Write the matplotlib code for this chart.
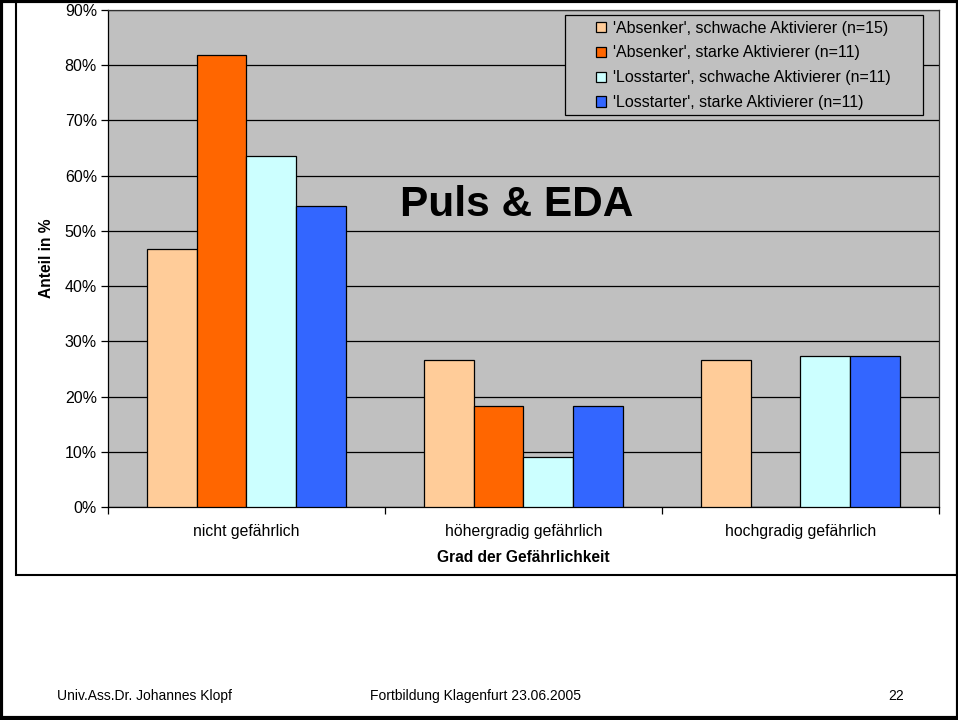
import numpy as np
import matplotlib.pyplot as plt
from matplotlib.patches import Rectangle

# --- data ---
categories = ["nicht gefährlich", "höhergradig gefährlich", "hochgradig gefährlich"]
series_labels = [
    "'Absenker', schwache Aktivierer (n=15)",
    "'Absenker', starke Aktivierer (n=11)",
    "'Losstarter', schwache Aktivierer (n=11)",
    "'Losstarter', starke Aktivierer (n=11)",
]
absenker_schwach = [46.7, 26.7, 26.7]
absenker_stark = [81.8, 18.2, 0.0]
losstarter_schwach = [63.6, 9.1, 27.3]
losstarter_stark = [54.5, 18.2, 27.3]
series_values = [absenker_schwach, absenker_stark, losstarter_schwach, losstarter_stark]
colors = ["#FFCC99", "#FF6600", "#CCFFFF", "#3366FF"]
yticks = [0, 10, 20, 30, 40, 50, 60, 70, 80, 90]

plt.rcParams['font.family'] = ['Liberation Sans', 'DejaVu Sans']

W, H = 958, 720
fig = plt.figure(figsize=(W / 100, H / 100), dpi=100)

# plot area in pixel coordinates
left, right, top, bottom = 108, 939, 10, 507
ax = fig.add_axes([left / W, 1 - bottom / H, (right - left) / W, (bottom - top) / H])
ax.set_facecolor("#C0C0C0")

x = np.arange(len(categories))
bar_w = 0.18
for i, (vals, col, lab) in enumerate(zip(series_values, colors, series_labels)):
    offs = (i - 1.5) * bar_w
    ax.bar(x + offs, vals, width=bar_w, color=col, edgecolor="black",
           linewidth=0.9, label=lab, zorder=3)

ax.set_xlim(-0.5, len(categories) - 0.5)
ax.set_ylim(0, 90)
ax.set_yticks(yticks)
ax.set_yticklabels([f"{v}%" for v in yticks], fontsize=11.5)
ax.yaxis.grid(True, color="black", linewidth=0.9, zorder=0)
ax.set_axisbelow(True)

ax.set_xticks(x)
ax.set_xticklabels(categories, fontsize=11.3)
ax.set_xticks(np.arange(len(categories) + 1) - 0.5, minor=True)
ax.tick_params(axis="x", which="major", length=0, pad=12)
ax.tick_params(axis="x", which="minor", length=5, width=0.9, direction="out")
ax.tick_params(axis="y", length=5, width=0.9, direction="out", pad=3)

for side in ["left", "bottom", "top", "right"]:
    ax.spines[side].set_linewidth(0.9)
ax.spines["top"].set_color("#303030")
ax.spines["right"].set_color("#303030")

ax.set_xlabel("Grad der Gefährlichkeit", fontsize=11.2, fontweight="bold", labelpad=8)
ax.set_ylabel("Anteil in %", fontsize=11.2, fontweight="bold")
ax.yaxis.set_label_coords((54 - left) / (right - left), 0.5)

ax.text(0.4916, 0.608, "Puls & EDA", transform=ax.transAxes, fontsize=30.5,
        fontweight="bold", ha="center", va="center", zorder=5)

# legend box drawn separately (wide side padding like the original)
ax.add_patch(Rectangle((565 / W, 1 - 115 / H), (923 - 565) / W, 100 / H,
                       transform=fig.transFigure, facecolor="#C0C0C0",
                       edgecolor="black", linewidth=0.9, zorder=5, clip_on=False))
leg = ax.legend(loc="upper left", bbox_to_anchor=(596 / W, 1 - 20.5 / H),
                bbox_transform=fig.transFigure, fontsize=11.5, frameon=False,
                borderaxespad=0, borderpad=0, handlelength=0.62,
                handleheight=0.62, handletextpad=0.45, labelspacing=0.62)
leg.set_zorder(6)

# chart box and slide frame
fig.patches.append(Rectangle((16 / W, 1 - 575 / H), (957 - 16) / W, 575 / H,
                             transform=fig.transFigure, fill=False,
                             edgecolor="black", linewidth=1.5))
fig.patches.append(Rectangle((1 / W, 1 - 718 / H), (957) / W, 717 / H,
                             transform=fig.transFigure, fill=False,
                             edgecolor="black", linewidth=3))

# footer
fig.text(57 / W, 1 - 696 / H, "Univ.Ass.Dr. Johannes Klopf", fontsize=10, va="center")
fig.text(370 / W, 1 - 696 / H, "Fortbildung Klagenfurt 23.06.2005", fontsize=10, va="center")
fig.text(888 / W, 1 - 696 / H, "22", fontsize=10, va="center")

fig.savefig("out.png", dpi=100)
